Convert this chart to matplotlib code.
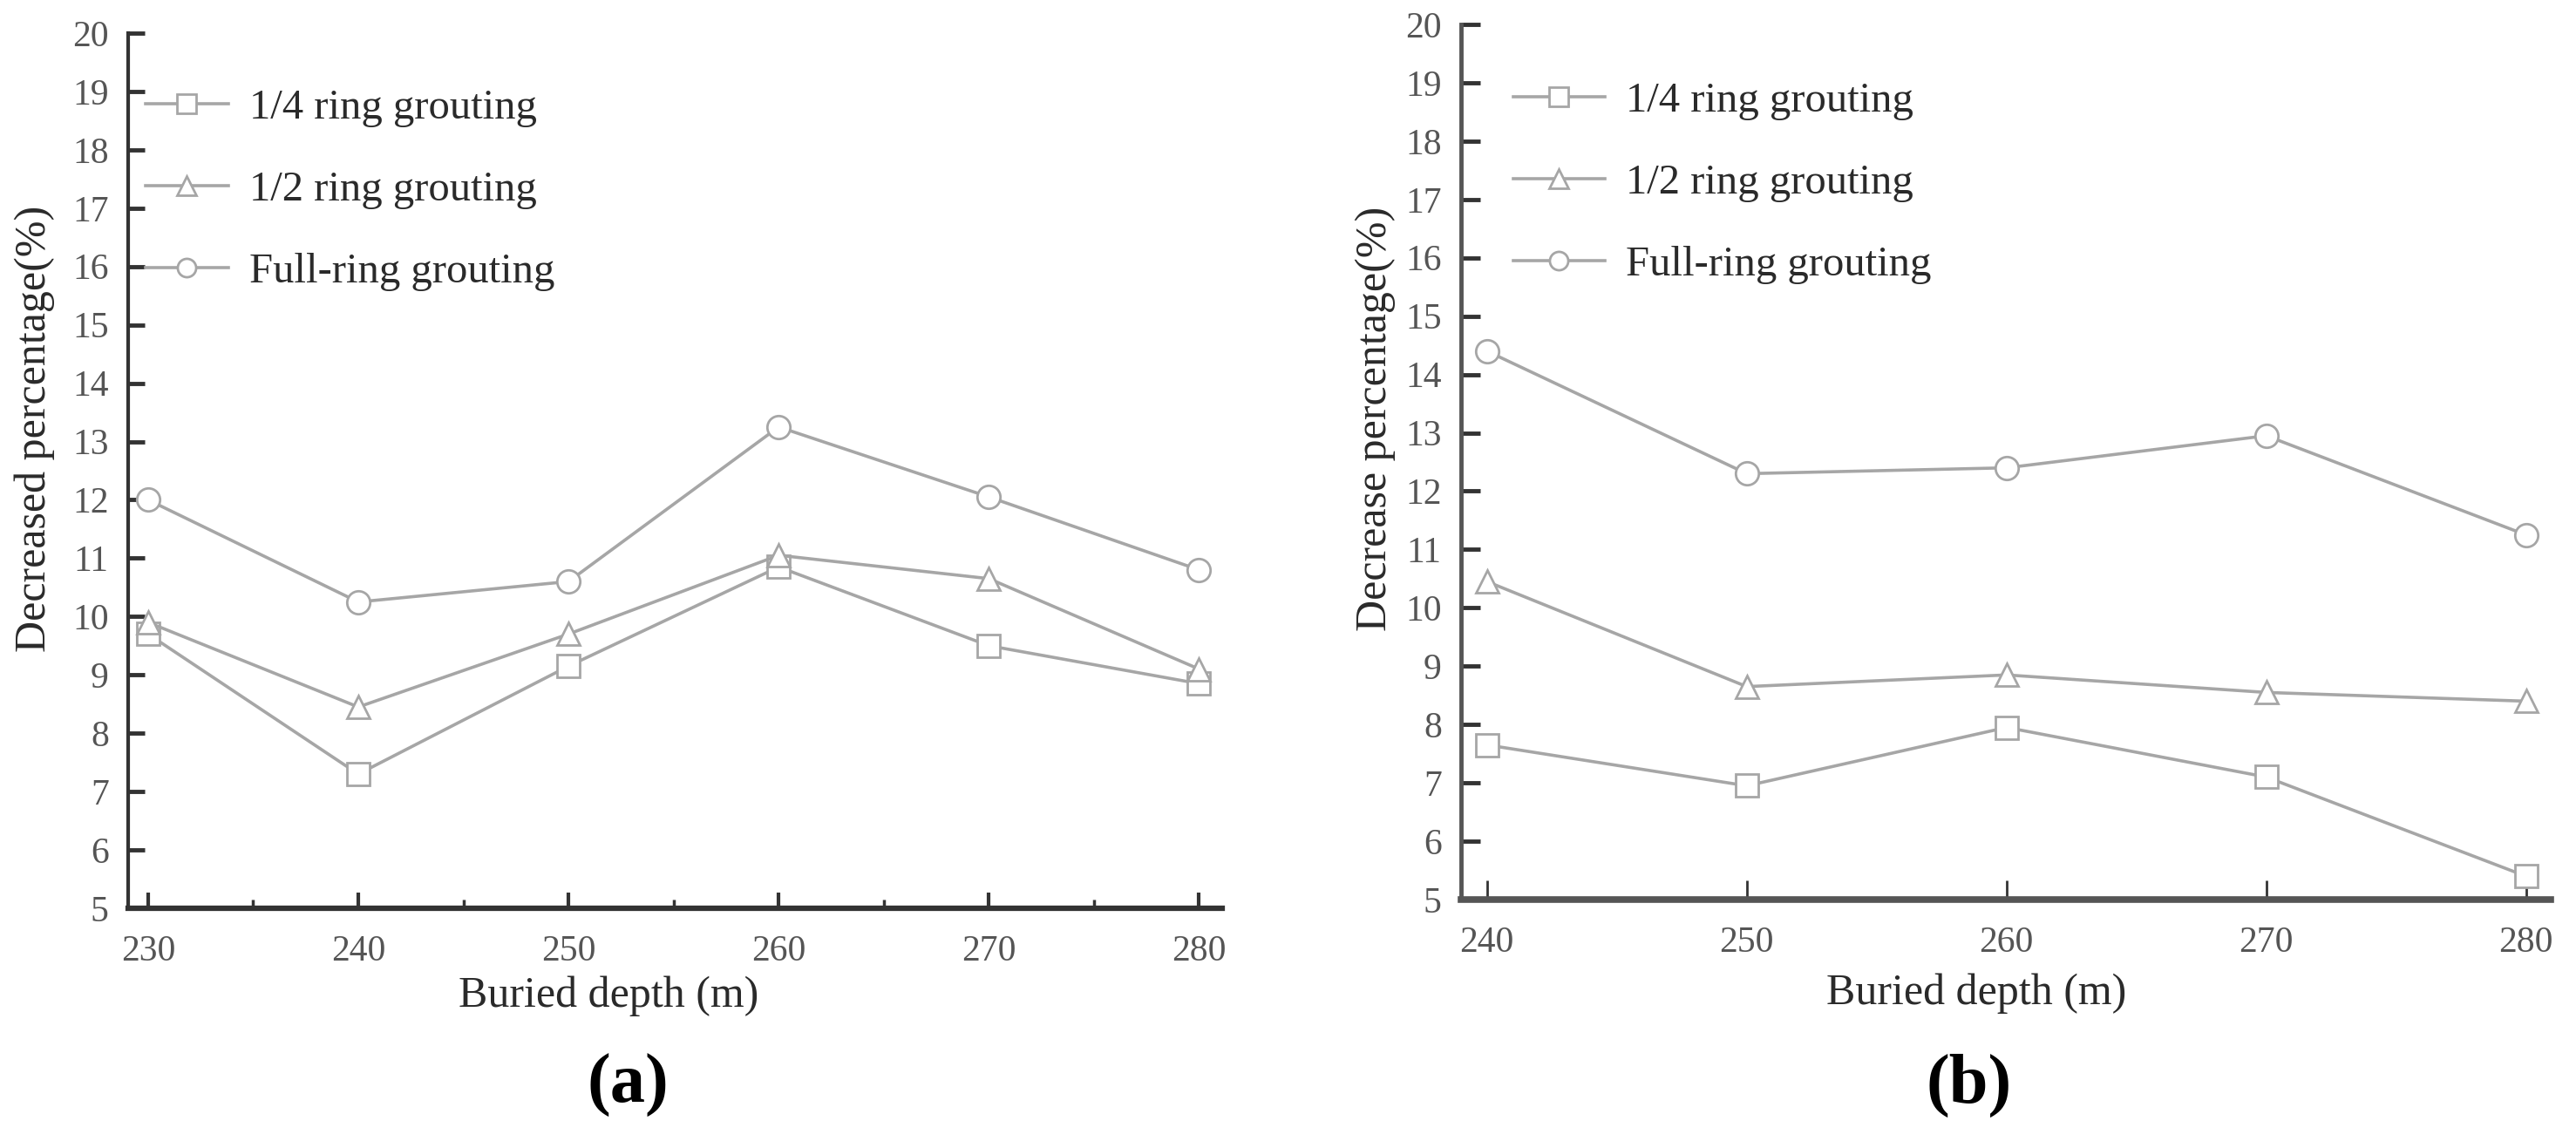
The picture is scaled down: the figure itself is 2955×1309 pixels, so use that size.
import matplotlib
matplotlib.use("Agg")
import matplotlib.pyplot as plt
from matplotlib.ticker import MultipleLocator

plt.rcParams['font.family'] = 'serif'
plt.rcParams['font.serif'] = ['Liberation Serif', 'DejaVu Serif']

# panel (a)
depth_a = [230, 240, 250, 260, 270, 280]
quarter_a = [9.7, 7.3, 9.15, 10.85, 9.5, 8.85]
half_a = [9.9, 8.45, 9.7, 11.05, 10.65, 9.1]
full_a = [12.0, 10.25, 10.6, 13.25, 12.05, 10.8]

# panel (b)
depth_b = [240, 250, 260, 270, 280]
quarter_b = [7.65, 6.95, 7.95, 7.1, 5.4]
half_b = [10.45, 8.65, 8.85, 8.55, 8.4]
full_b = [14.4, 12.3, 12.4, 12.95, 11.25]

series_labels = ['1/4 ring grouting', '1/2 ring grouting', 'Full-ring grouting']
series_markers = ['s', '^', 'o']
y_ticks = list(range(5, 21))

LINE = '#a6a6a6'
TICK_TXT = '#555555'
LABEL_TXT = '#2a2a2a'

W, H = 2955, 1309
fig = plt.figure(figsize=(W / 100, H / 100), dpi=100)

ax_a = fig.add_axes([147 / W, 1 - 1042 / H, 1255 / W, 1004 / H])
ax_b = fig.add_axes([1676 / W, 1 - 1032 / H, 1250 / W, 1004 / H])


def draw_series(ax, x, ys):
    for y, m, lab in zip(ys, series_markers, series_labels):
        ax.plot(x, y, color=LINE, lw=2.6, marker=m, markersize=19,
                markerfacecolor='white', markeredgecolor=LINE,
                markeredgewidth=2.0, label=lab, clip_on=False, zorder=3)


draw_series(ax_a, depth_a, [quarter_a, half_a, full_a])
draw_series(ax_b, depth_b, [quarter_b, half_b, full_b])

# axes (a)
ax_a.set_xlim(229.05, 281.1)
ax_a.set_ylim(5, 20)
ax_a.set_xticks(depth_a)
ax_a.xaxis.set_minor_locator(MultipleLocator(5))
ax_a.set_yticks(y_ticks)
for s in ['top', 'right']:
    ax_a.spines[s].set_visible(False)
for s in ['left', 'bottom']:
    ax_a.spines[s].set_color('#333333')
ax_a.spines['left'].set_linewidth(3.0)
ax_a.spines['bottom'].set_linewidth(4.5)
ax_a.tick_params(axis='x', which='major', direction='in', length=13, width=3,
                 color='#333333', pad=22, labelsize=30, labelcolor=TICK_TXT)
ax_a.tick_params(axis='x', which='minor', direction='in', length=7, width=2.5,
                 color='#333333')
ax_a.tick_params(axis='y', direction='in', length=14, width=3.5, color='#333333',
                 pad=16, labelsize=30, labelcolor=TICK_TXT)

# axes (b)
ax_b.set_xlim(239.0, 280.95)
ax_b.set_ylim(5, 20)
ax_b.set_xticks(depth_b)
ax_b.set_yticks(y_ticks)
for s in ['top', 'right']:
    ax_b.spines[s].set_visible(False)
for s in ['left', 'bottom']:
    ax_b.spines[s].set_color('#555555')
ax_b.spines['left'].set_linewidth(3.5)
ax_b.spines['bottom'].set_linewidth(5.5)
ax_b.tick_params(axis='x', direction='in', length=16, width=2, color='#333333',
                 pad=22, labelsize=30, labelcolor=TICK_TXT)
ax_b.tick_params(axis='y', direction='in', length=16, width=3.5, color='#333333',
                 pad=16, labelsize=30, labelcolor=TICK_TXT)

# axis labels
ax_a.text(0.439, -0.1006, 'Buried depth (m)', transform=ax_a.transAxes,
          ha='center', va='center', fontsize=36, color=LABEL_TXT)
ax_a.text(-0.0853, 0.548, 'Decreased percentage(%)', transform=ax_a.transAxes,
          ha='center', va='center', rotation=90, fontsize=36, color=LABEL_TXT)
ax_b.text(0.473, -0.1076, 'Buried depth (m)', transform=ax_b.transAxes,
          ha='center', va='center', fontsize=36, color=LABEL_TXT)
ax_b.text(-0.0784, 0.549, 'Decrease percentage(%)', transform=ax_b.transAxes,
          ha='center', va='center', rotation=90, fontsize=36, color=LABEL_TXT)

# legends
for ax, anchor, hl in [(ax_a, (0.0159, 0.936), 1.95), (ax_b, (0.048, 0.934), 2.15)]:
    leg = ax.legend(loc='upper left', bbox_to_anchor=anchor, frameon=False,
                    fontsize=35, handlelength=hl, handletextpad=0.5,
                    labelspacing=1.03, borderpad=0, borderaxespad=0,
                    markerscale=0.8)
    for t in leg.get_texts():
        t.set_color(LABEL_TXT)

# panel tags
fig.text(720 / W, 1 - 1245 / H, '(a)', ha='center', va='center',
         fontsize=58, fontweight='bold', color='black')
fig.text(2259 / W, 1 - 1245 / H, '(b)', ha='center', va='center',
         fontsize=58, fontweight='bold', color='black')

fig.savefig('out.png', dpi=100, facecolor='white')
